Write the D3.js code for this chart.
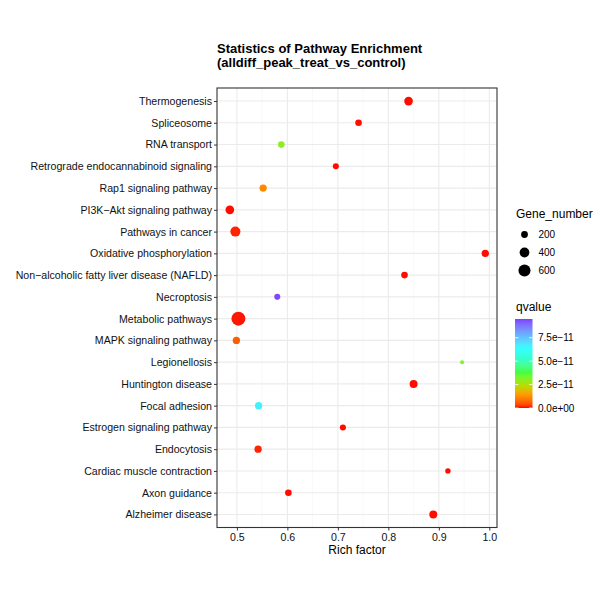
<!DOCTYPE html>
<html><head><meta charset="utf-8">
<script src="https://cdn.jsdelivr.net/npm/d3@7"></script>
<style>body{margin:0;background:#fff;} text{font-family:"Liberation Sans",Arial,Helvetica,sans-serif;}</style>
</head><body>
<svg id="c" width="600" height="600"></svg>
<script>
const pathways = ["Thermogenesis","Spliceosome","RNA transport","Retrograde endocannabinoid signaling","Rap1 signaling pathway","PI3K\u2212Akt signaling pathway","Pathways in cancer","Oxidative phosphorylation","Non\u2212alcoholic fatty liver disease (NAFLD)","Necroptosis","Metabolic pathways","MAPK signaling pathway","Legionellosis","Huntington disease","Focal adhesion","Estrogen signaling pathway","Endocytosis","Cardiac muscle contraction","Axon guidance","Alzheimer disease"];
const richFactor = [0.840,0.741,0.588,0.696,0.552,0.486,0.497,0.992,0.832,0.580,0.503,0.499,0.946,0.850,0.543,0.710,0.542,0.918,0.602,0.889];
const geneNumber = [320,190,190,160,230,320,420,230,190,160,810,230,77,270,230,160,230,130,190,270];
const qvalue = [0.02e-11,0.02e-11,3.0e-11,0.02e-11,1.2e-11,0.02e-11,0.1e-11,0.02e-11,0.02e-11,9.4e-11,0.05e-11,0.6e-11,3.2e-11,0.02e-11,6.6e-11,0.02e-11,0.1e-11,0.02e-11,0.02e-11,0.02e-11];
const xTicks = [0.5,0.6,0.7,0.8,0.9,1.0];
const sizeBreaks = [200,400,600];
const qBreaks = [0,2.5e-11,5.0e-11,7.5e-11];
const qBreakLabels = ["0.0e+00","2.5e\u221211","5.0e\u221211","7.5e\u221211"];
const qColours = ["#FF0000","#FF9900","#A6E600","#40FF40","#33FFCC","#33FFFF","#66B3FF","#7F3FFF"];
const qColourStops = [0,0.15,0.27,0.40,0.55,0.67,0.82,1];

const svg = d3.select("#c");
const L=217, R=497, T=88, B=527.5;
const x = d3.scaleLinear().domain([0.4606,1.0152]).range([L,R]);
const y = d3.scalePoint().domain(pathways).range([T,B]).padding(0.6);
const qMax = 9.5e-11;
const colorScale = d3.scaleLinear().domain(qColourStops.map(s=>s*qMax)).range(qColours).interpolate(d3.interpolateLab).clamp(true);
const color = q => colorScale(q);
const size = d3.scaleRadial().domain([77,810]).range([2,7]);

// grid
const g = svg.append("g");
const minor = d3.range(0.45,1.02,0.1).filter(v=>v>0.4606&&v<1.0152);
g.selectAll(".mn").data(minor).join("line").attr("x1",d=>x(d)).attr("x2",d=>x(d)).attr("y1",T).attr("y2",B).attr("stroke","#f4f4f4").attr("stroke-width",0.6);
g.selectAll(".mj").data(xTicks).join("line").attr("x1",d=>x(d)).attr("x2",d=>x(d)).attr("y1",T).attr("y2",B).attr("stroke","#ebebeb").attr("stroke-width",1.1);
g.selectAll(".hy").data(pathways).join("line").attr("x1",L).attr("x2",R).attr("y1",d=>y(d)).attr("y2",d=>y(d)).attr("stroke","#ebebeb").attr("stroke-width",1.1);

// points
const data = pathways.map((p,i)=>({p,x:richFactor[i],n:geneNumber[i],q:qvalue[i]}));
svg.append("g").selectAll("circle").data(data).join("circle")
  .attr("cx",d=>x(d.x)).attr("cy",d=>y(d.p)).attr("r",d=>size(d.n)).attr("fill",d=>color(d.q));

// border
svg.append("rect").attr("x",L).attr("y",T).attr("width",R-L).attr("height",B-T).attr("fill","none").attr("stroke","#333").attr("stroke-width",1.1);

// axes
const xa = svg.append("g").attr("transform",`translate(0,${B})`).call(d3.axisBottom(x).tickValues(xTicks).tickFormat(d3.format(".1f")).tickSize(3).tickPadding(3));
const ya = svg.append("g").attr("transform",`translate(${L},0)`).call(d3.axisLeft(y).tickSize(3).tickPadding(2));
[xa,ya].forEach(a=>{a.select(".domain").remove();a.selectAll("line").attr("stroke","#333");a.selectAll("text").attr("fill","#111").style("font-size","10.6px").style("font-family","'Liberation Sans',Arial,sans-serif");});

// titles
svg.append("text").attr("x",L).attr("y",53).text("Statistics of Pathway Enrichment").style("font-size","13px").style("font-weight","bold").attr("fill","#000");
svg.append("text").attr("x",L).attr("y",67).text("(alldiff_peak_treat_vs_control)").style("font-size","13px").style("font-weight","bold").attr("fill","#000");
svg.append("text").attr("x",(L+R)/2).attr("y",554).attr("text-anchor","middle").text("Rich factor").style("font-size","12px").attr("fill","#000");

// size legend
svg.append("text").attr("x",516).attr("y",218).text("Gene_number").style("font-size","12px");
const sl = svg.append("g").selectAll("g").data(sizeBreaks).join("g").attr("transform",(d,i)=>`translate(524.5,${234.5+i*18})`);
sl.append("circle").attr("r",d=>size(d)).attr("fill","#000");
sl.append("text").attr("x",14).attr("y",3.5).text(d=>d).style("font-size","10px");

// color legend
svg.append("text").attr("x",516).attr("y",311).text("qvalue").style("font-size","12px");
const cbT=319, cbB=408, cbL=515, cbW=17.5;
const cy = d3.scaleLinear().domain([0,qMax]).range([cbB,cbT]);
const defs = svg.append("defs");
const grad = defs.append("linearGradient").attr("id","qg").attr("x1",0).attr("y1",1).attr("x2",0).attr("y2",0);
d3.range(0,1.0001,0.025).forEach(t=>grad.append("stop").attr("offset",t).attr("stop-color",color(t*qMax)));
svg.append("rect").attr("x",cbL).attr("y",cbT).attr("width",cbW).attr("height",cbB-cbT).attr("fill","url(#qg)");
const ct = svg.append("g").selectAll("g").data(qBreaks).join("g").attr("transform",d=>`translate(0,${cy(d)})`);
ct.append("line").attr("x1",cbL).attr("x2",cbL+3.5).attr("stroke","#fff").attr("stroke-width",0.8);
ct.append("line").attr("x1",cbL+cbW-3.5).attr("x2",cbL+cbW).attr("stroke","#fff").attr("stroke-width",0.8);
ct.append("text").attr("x",538).attr("y",3.5).text((d,i)=>qBreakLabels[i]).style("font-size","10px");
</script>
</body></html>
